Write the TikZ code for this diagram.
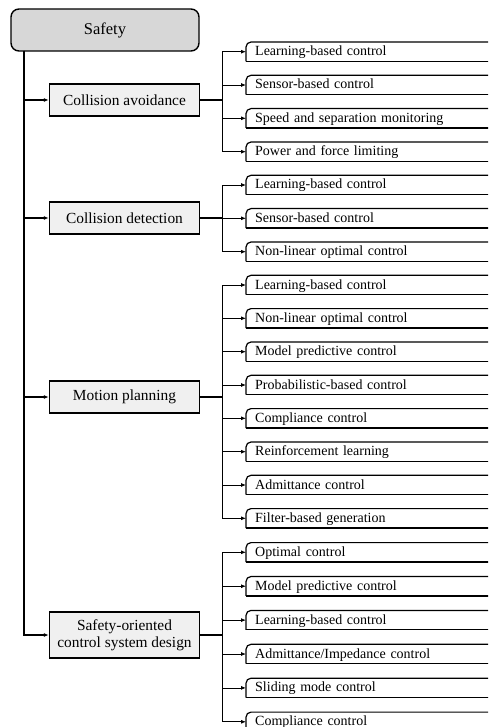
\documentclass[tikz,border=0pt]{standalone}
\usepackage{fontspec}
\setmainfont{Liberation Serif}
\usepackage{tikz}
\usetikzlibrary{arrows.meta, positioning, calc}
\definecolor{rootc}{RGB}{215,215,215}
\definecolor{catc}{RGB}{240,240,240}
\tikzset{
  rootbox/.style={draw, line width=1.4pt, fill=rootc, rounded corners=8pt,
    minimum width=188pt, minimum height=42pt, font=\fontsize{16.5}{19}\selectfont},
  catbox/.style={draw, line width=1.4pt, fill=catc, minimum width=150pt,
    minimum height=32pt, align=center, font=\fontsize{15.4}{17.5}\selectfont},
  leafbox/.style={anchor=west, text width=250pt, align=left, inner xsep=9pt,
    inner ysep=0pt, minimum height=19pt, text height=10.5pt, text depth=2.5pt,
    font=\fontsize{14}{16}\selectfont},
  leafedge/.style={line width=1.2pt},
  trunkline/.style={line width=1.2pt, -{Latex[length=5pt,width=4pt]}},
  stub/.style={line width=1.3pt},
  arrowline/.style={line width=0.8pt, -{Latex[length=5pt,width=4pt]}}
}
\newcommand{\leafnode}[3]{%
  \node[leafbox] (#1) at (246,#2) {#3};
  \draw[leafedge, rounded corners=5pt] (#1.south west) -- (#1.north west) -- (#1.north east);
  \draw[leafedge] (#1.south west) -- (#1.south east);}

\begin{document}
\begin{tikzpicture}[x={(1pt,0)}, y={(0,-1pt)}]
  \useasboundingbox (0,0) rectangle (488,727);
  \clip (0,0) rectangle (488,727);
  \node[rootbox] (safety) at (105,30) {Safety};
  \node[catbox] (ca) at (124.5,100) {Collision avoidance};
  \node[catbox] (cd) at (124.5,218) {Collision detection};
  \node[catbox] (mp) at (124.5,397) {Motion planning};
  \node[catbox, minimum height=46pt] (soc) at (124.5,635) {Safety-oriented\\control system design};
  % trunk
  \coordinate (top) at (24,51);
  \foreach \n in {ca,cd,mp,soc}
    \draw[trunkline] (top) |- (\n.west);
  % collision avoidance
  \leafnode{a1}{51.7}{Learning-based control}
  \leafnode{a2}{85.0}{Sensor-based control}
  \leafnode{a3}{118.3}{Speed and separation monitoring}
  \leafnode{a4}{151.7}{Power and force limiting}
  \draw[stub] (ca.east) -- ++(22,0) coordinate (caj);
  \foreach \n in {a1,a2,a3,a4}
    \draw[arrowline] (caj) |- (\n.west);
  % collision detection
  \leafnode{d1}{185.0}{Learning-based control}
  \leafnode{d2}{218.3}{Sensor-based control}
  \leafnode{d3}{251.7}{Non-linear optimal control}
  \draw[stub] (cd.east) -- ++(22,0) coordinate (cdj);
  \foreach \n in {d1,d2,d3}
    \draw[arrowline] (cdj) |- (\n.west);
  % motion planning
  \leafnode{m1}{285.0}{Learning-based control}
  \leafnode{m2}{318.3}{Non-linear optimal control}
  \leafnode{m3}{351.7}{Model predictive control}
  \leafnode{m4}{385.0}{Probabilistic-based control}
  \leafnode{m5}{418.3}{Compliance control}
  \leafnode{m6}{451.7}{Reinforcement learning}
  \leafnode{m7}{485.0}{Admittance control}
  \leafnode{m8}{518.3}{Filter-based generation}
  \draw[stub] (mp.east) -- ++(22,0) coordinate (mpj);
  \foreach \n in {m1,m2,m3,m4,m5,m6,m7,m8}
    \draw[arrowline] (mpj) |- (\n.west);
  % safety-oriented control system design
  \leafnode{s1}{552.3}{Optimal control}
  \leafnode{s2}{586.2}{Model predictive control}
  \leafnode{s3}{620.1}{Learning-based control}
  \leafnode{s4}{654.0}{Admittance/Impedance control}
  \leafnode{s5}{687.9}{Sliding mode control}
  \leafnode{s6}{721.8}{Compliance control}
  \draw[stub] (soc.east) -- ++(22,0) coordinate (socj);
  \foreach \n in {s1,s2,s3,s4,s5,s6}
    \draw[arrowline] (socj) |- (\n.west);
\end{tikzpicture}
\end{document}
